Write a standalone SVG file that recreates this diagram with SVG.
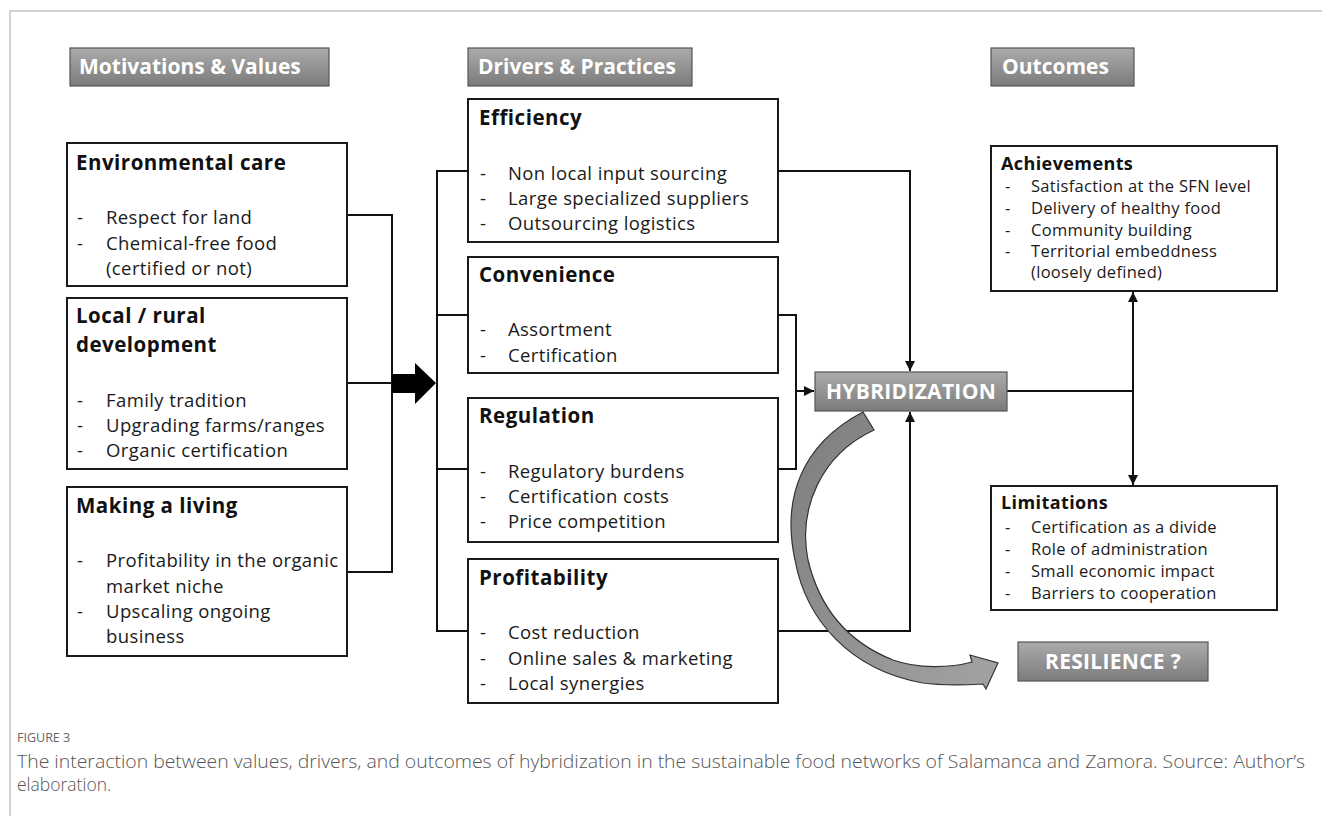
<svg xmlns="http://www.w3.org/2000/svg" width="1322" height="816" viewBox="0 0 1322 816">
<defs>
<linearGradient id="hg" x1="0" y1="0" x2="0" y2="1">
<stop offset="0" stop-color="#ababab"/>
<stop offset="1" stop-color="#7b7b7b"/>
</linearGradient>
<linearGradient id="cg" x1="0" y1="0" x2="1" y2="1">
<stop offset="0" stop-color="#7d7d7d"/>
<stop offset="1" stop-color="#a3a3a3"/>
</linearGradient>
<marker id="ah" viewBox="0 0 10 10" refX="10" refY="5" markerWidth="5" markerHeight="5" orient="auto-start-reverse">
<path d="M0,0 L10,5 L0,10 Z" fill="#111"/>
</marker>
</defs>
<style>
.frame{fill:none;stroke:#c4c4c4;stroke-width:1.5}
.hdr{fill:url(#hg);stroke:#555;stroke-width:1.2}
.hdrt{font-family:"Open Sans","Liberation Sans",sans-serif;font-weight:bold;font-size:21px;fill:#fff}
.box{fill:#fff;stroke:#1a1a1a;stroke-width:2}
.ttl{font-family:"Open Sans","Liberation Sans",sans-serif;font-weight:bold;font-size:20.5px;letter-spacing:0.5px;fill:#111}
.txt{font-family:"Open Sans","Liberation Sans",sans-serif;font-size:18.5px;letter-spacing:0.4px;fill:#1a1a1a}
.ttl2{font-family:"Open Sans","Liberation Sans",sans-serif;font-weight:bold;font-size:18px;letter-spacing:0.4px;fill:#111}
.txt2{font-family:"Open Sans","Liberation Sans",sans-serif;font-size:16.5px;letter-spacing:0.3px;fill:#1a1a1a}
.ln{fill:none;stroke:#111;stroke-width:2}
.cap1{font-family:"Open Sans",sans-serif;font-size:12.5px;fill:#666}
.cap2{font-family:"Open Sans",sans-serif;font-weight:300;font-size:17.5px;fill:#555}
</style>
<rect width="1322" height="816" fill="#fff"/>
<path class="frame" d="M10,816 L10,11 L1322,11"/>

<g id="hdr-motivations"><rect class="hdr" x="70" y="48" width="259" height="38"/><text class="hdrt" x="79" y="74">Motivations &amp; Values</text></g>
<g id="hdr-drivers"><rect class="hdr" x="468" y="48" width="224" height="38"/><text class="hdrt" x="478" y="74">Drivers &amp; Practices</text></g>
<g id="hdr-outcomes"><rect class="hdr" x="991" y="48" width="143" height="38"/><text class="hdrt" x="1002" y="74">Outcomes</text></g>

<g id="connectors">
<path class="ln" d="M347,215 H392 V572 H347 M347,383 H392"/>
<path d="M392,374 H415 V363 L436,383 L415,404 V393 H392 Z" fill="#000"/>
<path class="ln" d="M468,171 H437 V631 H468 M437,315 H468 M437,469 H468"/>
<path class="ln" d="M778,171 H910 V371" marker-end="url(#ah)"/>
<path class="ln" d="M778,631 H910 V412" marker-end="url(#ah)"/>
<path class="ln" d="M778,315 H796 V469 H778"/>
<path class="ln" d="M796,391 H814" marker-end="url(#ah)"/>
<path class="ln" d="M1007,391 H1133"/>
<path class="ln" d="M1133,292 V485" marker-start="url(#ah)" marker-end="url(#ah)"/>
</g>

<g id="env-care"><rect class="box" x="67" y="143" width="280" height="143"/>
<text class="ttl" x="76" y="170">Environmental care</text>
<text class="txt"><tspan x="77" y="224">-</tspan><tspan x="106" y="224">Respect for land</tspan><tspan x="77" y="250">-</tspan><tspan x="106" y="250">Chemical-free food</tspan><tspan x="106" y="275">(certified or not)</tspan></text></g>

<g id="local-rural"><rect class="box" x="67" y="298" width="280" height="171"/>
<text class="ttl" x="76" y="323">Local / rural</text><text class="ttl" x="76" y="352">development</text>
<text class="txt"><tspan x="77" y="407">-</tspan><tspan x="106" y="407">Family tradition</tspan><tspan x="77" y="432">-</tspan><tspan x="106" y="432">Upgrading farms/ranges</tspan><tspan x="77" y="457">-</tspan><tspan x="106" y="457">Organic certification</tspan></text></g>

<g id="making-living"><rect class="box" x="67" y="487" width="280" height="169"/>
<text class="ttl" x="76" y="513">Making a living</text>
<text class="txt"><tspan x="77" y="567">-</tspan><tspan x="106" y="567">Profitability in the organic</tspan><tspan x="106" y="593">market niche</tspan><tspan x="77" y="618">-</tspan><tspan x="106" y="618">Upscaling ongoing</tspan><tspan x="106" y="643">business</tspan></text></g>

<g id="efficiency"><rect class="box" x="468" y="99" width="310" height="143"/>
<text class="ttl" x="479" y="125">Efficiency</text>
<text class="txt"><tspan x="480" y="180">-</tspan><tspan x="508" y="180">Non local input sourcing</tspan><tspan x="480" y="205">-</tspan><tspan x="508" y="205">Large specialized suppliers</tspan><tspan x="480" y="230">-</tspan><tspan x="508" y="230">Outsourcing logistics</tspan></text></g>

<g id="convenience"><rect class="box" x="468" y="257" width="310" height="116"/>
<text class="ttl" x="479" y="282">Convenience</text>
<text class="txt"><tspan x="480" y="336">-</tspan><tspan x="508" y="336">Assortment</tspan><tspan x="480" y="362">-</tspan><tspan x="508" y="362">Certification</tspan></text></g>

<g id="regulation"><rect class="box" x="468" y="398" width="310" height="144"/>
<text class="ttl" x="479" y="423">Regulation</text>
<text class="txt"><tspan x="480" y="478">-</tspan><tspan x="508" y="478">Regulatory burdens</tspan><tspan x="480" y="503">-</tspan><tspan x="508" y="503">Certification costs</tspan><tspan x="480" y="528">-</tspan><tspan x="508" y="528">Price competition</tspan></text></g>

<g id="profitability"><rect class="box" x="468" y="559" width="310" height="144"/>
<text class="ttl" x="479" y="585">Profitability</text>
<text class="txt"><tspan x="480" y="639">-</tspan><tspan x="508" y="639">Cost reduction</tspan><tspan x="480" y="665">-</tspan><tspan x="508" y="665">Online sales &amp; marketing</tspan><tspan x="480" y="690">-</tspan><tspan x="508" y="690">Local synergies</tspan></text></g>

<g id="hybridization"><rect class="hdr" x="815" y="372" width="192" height="39"/><text class="hdrt" x="911" y="399" text-anchor="middle" font-size="22" letter-spacing="0.3">HYBRIDIZATION</text></g>

<g id="achievements"><rect class="box" x="991" y="146" width="286" height="145"/>
<text class="ttl2" x="1001" y="170">Achievements</text>
<text class="txt2"><tspan x="1005" y="192">-</tspan><tspan x="1031" y="192">Satisfaction at the SFN level</tspan><tspan x="1005" y="214">-</tspan><tspan x="1031" y="214">Delivery  of healthy food</tspan><tspan x="1005" y="236">-</tspan><tspan x="1031" y="236">Community building</tspan><tspan x="1005" y="257">-</tspan><tspan x="1031" y="257">Territorial embeddness</tspan><tspan x="1031" y="278">(loosely defined)</tspan></text></g>

<g id="limitations"><rect class="box" x="991" y="486" width="286" height="124"/>
<text class="ttl2" x="1001" y="509">Limitations</text>
<text class="txt2"><tspan x="1005" y="533">-</tspan><tspan x="1031" y="533">Certification as a divide</tspan><tspan x="1005" y="555">-</tspan><tspan x="1031" y="555">Role of administration</tspan><tspan x="1005" y="577">-</tspan><tspan x="1031" y="577">Small economic impact</tspan><tspan x="1005" y="599">-</tspan><tspan x="1031" y="599">Barriers to cooperation</tspan></text></g>

<g id="curved-arrow">
<path d="M863,412 C800,445 782,500 795,560 C806,620 850,670 923,683 C945,686 965,685 983,684 L986,689 L998,663 L970,655 L972,662 C950,668 918,669 893,660 C850,643 820,610 808,560 C798,510 820,455 874,430 Z" fill="url(#cg)" stroke="#333" stroke-width="1.2"/>
</g>

<g id="resilience"><rect class="hdr" x="1018" y="642" width="190" height="39"/><text class="hdrt" x="1113" y="669" text-anchor="middle" font-size="22" letter-spacing="0.3">RESILIENCE ?</text></g>

<g id="caption">
<text class="cap1" x="17" y="742">FIGURE 3</text>
<text class="cap2" x="17" y="768" textLength="1288" lengthAdjust="spacingAndGlyphs">The interaction between values, drivers, and outcomes of hybridization in the sustainable food networks of Salamanca and Zamora. Source: Author’s</text>
<text class="cap2" x="17" y="791">elaboration.</text>
</g>
</svg>
